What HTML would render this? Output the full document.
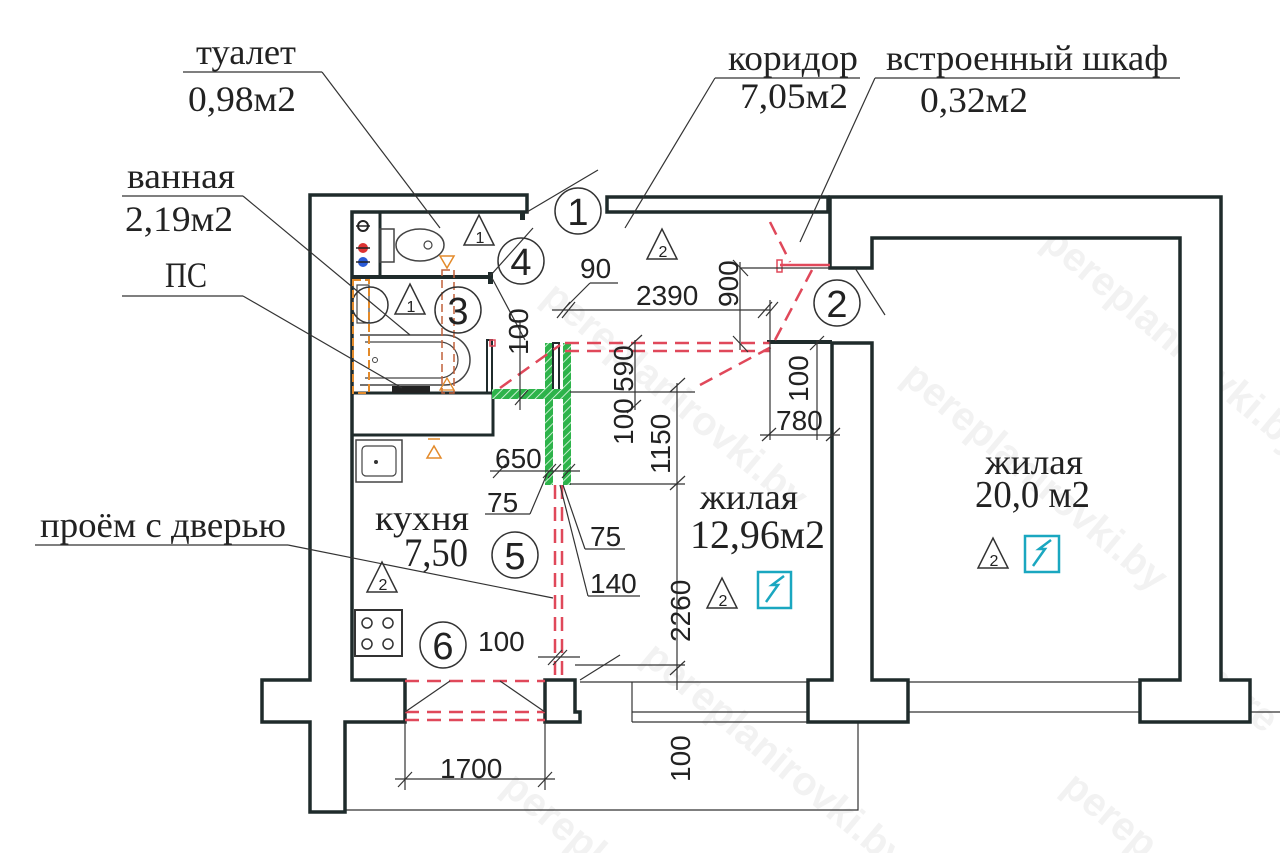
<!DOCTYPE html>
<html><head><meta charset="utf-8"><style>
html,body{margin:0;padding:0;background:#fff;}
svg{display:block;}
.s{font-family:"Liberation Serif","Noto Serif CJK SC",serif;fill:#222;}
.d{font-family:"Liberation Sans","DejaVu Sans",sans-serif;fill:#222;}
.w{fill:#fff;stroke:#1f2b2b;stroke-width:3.5;stroke-linejoin:miter;}
.t{stroke:#333;stroke-width:1.2;fill:none;}
.r{stroke:#e0485a;stroke-width:2.5;fill:none;stroke-dasharray:14 8;}
.wm{font-family:"Liberation Sans",sans-serif;font-weight:bold;font-size:40px;fill:#f2f2f2;}
</style></head><body>
<svg width="1280" height="853" viewBox="0 0 1280 853" xmlns="http://www.w3.org/2000/svg">
<defs>
<pattern id="hat" width="6" height="6" patternUnits="userSpaceOnUse" patternTransform="rotate(45)">
<rect width="6" height="6" fill="#2db34a"/><line x1="0" y1="0" x2="0" y2="6" stroke="#c8f0d0" stroke-width="2"/></pattern>
</defs>
<g class="wm">
<text transform="translate(1040,245) rotate(40)">pereplanirovki.by</text>
<text transform="translate(900,380) rotate(40)">pereplanirovki.by</text>
<text transform="translate(540,300) rotate(40)">pereplanirovki.by</text>
<text transform="translate(640,660) rotate(40)">pereplanirovki.by</text>
<text transform="translate(1060,790) rotate(40)">perep</text>
<text transform="translate(500,790) rotate(40)">perepl</text>
<text transform="translate(1200,680) rotate(40)">pere</text>
</g>

<polyline class="t" points="345,810 858,810 858,722"/>
<line class="t" x1="632" y1="682" x2="632" y2="722"/>
<line class="t" x1="580" y1="682" x2="808" y2="682"/>
<line class="t" x1="632" y1="712" x2="808" y2="712"/>
<line class="t" x1="632" y1="722" x2="808" y2="722"/>
<line class="t" x1="908" y1="682" x2="1140" y2="682"/>
<line class="t" x1="908" y1="712" x2="1140" y2="712"/>
<line class="t" x1="1250" y1="712" x2="1280" y2="712"/>

<polygon class="w" points="310,195 527,195 527,212 352,212 352,680 405,680 405,722 345,722 345,812 310,812 310,722 262,722 262,680 310,680"/>
<rect class="w" x="607" y="197" width="221" height="15"/>
<polygon class="w" points="830,197 1221,197 1221,680 1250,680 1250,722 1140,722 1140,680 1180,680 1180,238 872,238 872,268 830,268"/>
<polygon class="w" points="832,343 872,343 872,680 908,680 908,722 808,722 808,680 832,680"/>
<line x1="767" y1="342" x2="832" y2="342" stroke="#1f2b2b" stroke-width="4"/>
<polygon class="w" points="545,680 575,680 575,712 580,712 580,722 545,722"/>

<line x1="380" y1="212" x2="380" y2="275" stroke="#1f2b2b" stroke-width="3"/>
<line x1="352" y1="277" x2="492" y2="277" stroke="#1f2b2b" stroke-width="4"/>
<rect x="488" y="272" width="5" height="12" fill="#1f2b2b"/>
<rect x="520" y="212" width="5" height="8" fill="#1f2b2b"/>
<rect class="w" x="487" y="340" width="5" height="53" style="stroke-width:2"/>
<line x1="352" y1="393" x2="493" y2="393" stroke="#1f2b2b" stroke-width="3"/>
<polyline points="352,435 493,435 493,393" fill="none" stroke="#1f2b2b" stroke-width="3"/>
<rect x="392" y="386" width="38" height="7" fill="#222"/>
<rect x="380" y="229" width="14" height="33" fill="none" stroke="#444" stroke-width="1.5"/>
<ellipse cx="420" cy="245" rx="24" ry="16" fill="none" stroke="#444" stroke-width="1.5"/>
<circle cx="428" cy="245" r="4" fill="none" stroke="#444" stroke-width="1.2"/>
<circle cx="363" cy="226" r="5" fill="none" stroke="#222" stroke-width="2"/>
<line x1="356" y1="226" x2="370" y2="226" stroke="#222" stroke-width="1.5"/>
<circle cx="363" cy="248" r="5" fill="#d33"/>
<circle cx="363" cy="262" r="5" fill="#2a5bd7"/>
<line x1="356" y1="248" x2="370" y2="248" stroke="#222" stroke-width="1.5"/>
<line x1="356" y1="262" x2="370" y2="262" stroke="#222" stroke-width="1.5"/>
<rect x="357" y="285" width="12" height="38" fill="none" stroke="#444" stroke-width="1.2"/>
<circle cx="370" cy="305" r="18" fill="none" stroke="#333" stroke-width="1.5"/>
<path d="M360,335 H445 A22,22 0 0 1 445,385 H360" fill="none" stroke="#444" stroke-width="1.5"/>
<path d="M365,342 H440 A15,15 0 0 1 440,378 H365" fill="none" stroke="#444" stroke-width="1.2"/>
<circle cx="375" cy="360" r="2.5" fill="none" stroke="#444"/>
<rect x="353" y="280" width="16" height="113" fill="none" stroke="#e38a2a" stroke-width="2" stroke-dasharray="8 4"/>
<rect x="442" y="270" width="12" height="123" fill="none" stroke="#c0603a" stroke-width="1.5" stroke-dasharray="8 4"/>
<polygon points="440,256 454,256 447,268" fill="none" stroke="#e38a2a" stroke-width="1.5"/>
<polygon points="440,390 454,390 447,378" fill="none" stroke="#e38a2a" stroke-width="1.3"/>
<polygon points="427,458 441,458 434,446" fill="none" stroke="#e38a2a" stroke-width="1.5"/>
<line x1="428" y1="439" x2="440" y2="439" stroke="#e38a2a" stroke-width="1.5"/>
<rect x="356" y="440" width="46" height="42" fill="none" stroke="#444" stroke-width="1.5"/>
<rect x="362" y="446" width="34" height="30" rx="4" fill="none" stroke="#444" stroke-width="1.2"/>
<circle cx="376" cy="462" r="2" fill="#333"/>
<rect x="355" y="610" width="47" height="46" fill="none" stroke="#333" stroke-width="2"/>
<circle cx="367" cy="623" r="5" fill="none" stroke="#333" stroke-width="1.5"/>
<circle cx="388" cy="623" r="5" fill="none" stroke="#333" stroke-width="1.5"/>
<circle cx="367" cy="644" r="5" fill="none" stroke="#333" stroke-width="1.5"/>
<circle cx="388" cy="644" r="5" fill="none" stroke="#333" stroke-width="1.5"/>

<rect x="492" y="389" width="53" height="10" fill="url(#hat)"/>
<rect x="545" y="343" width="8" height="142" fill="url(#hat)"/>
<rect x="563" y="343" width="8" height="142" fill="url(#hat)"/>
<rect x="553" y="343" width="6" height="52" fill="#fff" stroke="#1f2b2b" stroke-width="2"/>
<rect x="545" y="389" width="26" height="10" fill="url(#hat)"/>

<line class="r" x1="565" y1="343" x2="770" y2="343"/>
<line class="r" x1="565" y1="351" x2="770" y2="351"/>
<line class="r" x1="500" y1="388" x2="560" y2="345"/>
<line class="r" x1="700" y1="385" x2="775" y2="345"/>
<line class="r" x1="775" y1="340" x2="812" y2="270"/>
<line class="r" x1="770" y1="222" x2="790" y2="262"/>
<line x1="780" y1="265" x2="830" y2="265" stroke="#e0485a" stroke-width="2.5"/>
<rect x="777" y="260" width="5" height="12" fill="none" stroke="#e0485a" stroke-width="1.5"/>
<line class="r" x1="555" y1="485" x2="555" y2="680"/>
<line class="r" x1="562" y1="485" x2="562" y2="680"/>
<line class="r" x1="405" y1="681" x2="545" y2="681"/>
<line class="r" x1="405" y1="712" x2="545" y2="712"/>
<line class="r" x1="405" y1="720" x2="545" y2="720"/>
<line class="t" x1="405" y1="712" x2="450" y2="681"/>
<line class="t" x1="545" y1="712" x2="500" y2="681"/>
<rect x="490" y="340" width="5" height="6" fill="none" stroke="#e0485a" stroke-width="1.5"/>

<line class="t" x1="527" y1="212" x2="598" y2="170"/>
<line class="t" x1="490" y1="276" x2="533" y2="228"/>
<line class="t" x1="492" y1="278" x2="525" y2="340"/>
<line class="t" x1="855" y1="268" x2="885" y2="315"/>
<line class="t" x1="580" y1="680" x2="620" y2="655"/>

<line class="t" x1="183" y1="72" x2="322" y2="72"/><line class="t" x1="322" y1="72" x2="440" y2="228"/>
<line class="t" x1="715" y1="78" x2="860" y2="78"/><line class="t" x1="715" y1="78" x2="625" y2="228"/>
<line class="t" x1="875" y1="78" x2="1180" y2="78"/><line class="t" x1="875" y1="78" x2="800" y2="242"/>
<line class="t" x1="122" y1="196" x2="243" y2="196"/><line class="t" x1="243" y1="196" x2="410" y2="335"/>
<line class="t" x1="122" y1="296" x2="243" y2="296"/><line class="t" x1="243" y1="296" x2="402" y2="388"/>
<line class="t" x1="35" y1="545" x2="288" y2="545"/><line class="t" x1="288" y1="545" x2="553" y2="598"/>

<g class="t">
<line x1="552" y1="310" x2="770" y2="310"/><line x1="557" y1="318" x2="570" y2="302"/><line x1="562" y1="318" x2="575" y2="302"/><line x1="758" y1="318" x2="772" y2="302"/>
<line x1="563" y1="310" x2="590" y2="283"/><line x1="590" y1="283" x2="618" y2="283"/>
<line x1="740" y1="268" x2="830" y2="268"/><line x1="740" y1="262" x2="740" y2="350"/><line x1="733" y1="260" x2="748" y2="276"/><line x1="733" y1="336" x2="748" y2="352"/>
<line x1="770" y1="300" x2="770" y2="440"/><line x1="766" y1="316" x2="778" y2="302"/>
<line x1="817" y1="340" x2="817" y2="440"/><line x1="810" y1="350" x2="824" y2="336"/>
<line x1="760" y1="435" x2="840" y2="435"/><line x1="762" y1="441" x2="776" y2="428"/><line x1="826" y1="441" x2="840" y2="428"/>
<line x1="635" y1="340" x2="635" y2="410"/><line x1="628" y1="348" x2="642" y2="335"/><line x1="627" y1="413" x2="641" y2="400"/>
<line x1="520" y1="320" x2="520" y2="410"/><line x1="515" y1="405" x2="528" y2="390"/>
<line x1="570" y1="392" x2="695" y2="392"/>
<line x1="677" y1="383" x2="677" y2="690"/><line x1="670" y1="392" x2="685" y2="378"/><line x1="670" y1="490" x2="685" y2="476"/><line x1="670" y1="675" x2="685" y2="661"/>
<line x1="570" y1="484" x2="685" y2="484"/>
<line x1="575" y1="665" x2="685" y2="665"/>
<line x1="490" y1="471" x2="580" y2="471"/><line x1="493" y1="478" x2="506" y2="464"/><line x1="543" y1="478" x2="556" y2="464"/><line x1="548" y1="478" x2="561" y2="464"/><line x1="562" y1="478" x2="575" y2="464"/>
<line x1="547" y1="474" x2="530" y2="514"/><line x1="485" y1="514" x2="530" y2="514"/>
<line x1="563" y1="485" x2="585" y2="549"/><line x1="585" y1="549" x2="625" y2="549"/>
<line x1="560" y1="485" x2="588" y2="596"/><line x1="588" y1="596" x2="640" y2="596"/>
<line x1="538" y1="657" x2="580" y2="657"/><line x1="548" y1="665" x2="562" y2="650"/><line x1="553" y1="665" x2="567" y2="650"/>
<line x1="405" y1="722" x2="405" y2="790"/><line x1="545" y1="722" x2="545" y2="790"/>
<line x1="395" y1="779" x2="555" y2="779"/><line x1="398" y1="787" x2="412" y2="772"/><line x1="538" y1="787" x2="552" y2="772"/>
</g>

<g fill="none" stroke="#333" stroke-width="1.5">
<circle cx="578" cy="211" r="23"/><circle cx="521" cy="261" r="23"/><circle cx="458" cy="310" r="23"/>
<circle cx="837" cy="303" r="23"/><circle cx="515" cy="555" r="23"/><circle cx="443" cy="645" r="23"/>
</g>
<g class="d" font-size="38" text-anchor="middle">
<text x="578" y="225">1</text><text x="521" y="275">4</text><text x="458" y="324">3</text>
<text x="837" y="317">2</text><text x="515" y="569">5</text><text x="443" y="659">6</text>
</g>

<g fill="none" stroke="#333" stroke-width="1.5">
<polygon points="464,245 494,245 479,215"/><polygon points="395,314 425,314 410,284"/>
<polygon points="647,259 677,259 662,229"/><polygon points="367,592 397,592 382,562"/>
<polygon points="707,608 737,608 722,578"/><polygon points="978,568 1008,568 993,538"/>
</g>
<g class="d" font-size="16" text-anchor="middle">
<text x="480" y="243">1</text><text x="411" y="312">1</text><text x="663" y="257">2</text>
<text x="383" y="590">2</text><text x="723" y="606">2</text><text x="994" y="566">2</text>
</g>
<g fill="none" stroke="#1aa7c0" stroke-width="2.5">
<rect x="758" y="572" width="33" height="36"/><path d="M766,602 L778,585 L772,585 L784,576"/>
<rect x="1025" y="536" width="34" height="36"/><path d="M1033,566 L1045,549 L1039,549 L1051,540"/>
</g>

<g class="s" font-size="36">
<text x="196" y="64" textLength="100" lengthAdjust="spacingAndGlyphs">туалет</text>
<text x="188" y="111" textLength="108" lengthAdjust="spacingAndGlyphs">0,98м2</text>
<text x="728" y="70" textLength="130" lengthAdjust="spacingAndGlyphs">коридор</text>
<text x="740" y="108" textLength="108" lengthAdjust="spacingAndGlyphs">7,05м2</text>
<text x="886" y="70" textLength="282" lengthAdjust="spacingAndGlyphs">встроенный шкаф</text>
<text x="920" y="112" textLength="108" lengthAdjust="spacingAndGlyphs">0,32м2</text>
<text x="127" y="188" textLength="108" lengthAdjust="spacingAndGlyphs">ванная</text>
<text x="125" y="231" textLength="108" lengthAdjust="spacingAndGlyphs">2,19м2</text>
<text x="165" y="287" textLength="42" lengthAdjust="spacingAndGlyphs">ПС</text>
<text x="40" y="537" textLength="246" lengthAdjust="spacingAndGlyphs">проём с дверью</text>
<text x="375" y="530" textLength="94" lengthAdjust="spacingAndGlyphs">кухня</text>
<text x="404" y="566" font-size="40" textLength="64" lengthAdjust="spacingAndGlyphs">7,50</text>
<text x="700" y="509" textLength="98" lengthAdjust="spacingAndGlyphs">жилая</text>
<text x="690" y="548" font-size="40" textLength="135" lengthAdjust="spacingAndGlyphs">12,96м2</text>
<text x="985" y="474" textLength="98" lengthAdjust="spacingAndGlyphs">жилая</text>
<text x="975" y="507" font-size="38" textLength="115" lengthAdjust="spacingAndGlyphs">20,0 м2</text>
</g>
<g class="d" font-size="28">
<text x="580" y="278">90</text>
<text x="636" y="305">2390</text>
<text x="495" y="468">650</text>
<text x="487" y="512">75</text>
<text x="590" y="546">75</text>
<text x="590" y="593">140</text>
<text x="478" y="651">100</text>
<text x="440" y="778">1700</text>
<text x="776" y="430">780</text>
<text transform="translate(738,307) rotate(-90)">900</text>
<text transform="translate(528,355) rotate(-90)">100</text>
<text transform="translate(633,392) rotate(-90)">590</text>
<text transform="translate(633,445) rotate(-90)">100</text>
<text transform="translate(670,474) rotate(-90)">1150</text>
<text transform="translate(808,402) rotate(-90)">100</text>
<text transform="translate(690,642) rotate(-90)">2260</text>
<text transform="translate(690,782) rotate(-90)">100</text>
</g>
</svg>
</body></html>
